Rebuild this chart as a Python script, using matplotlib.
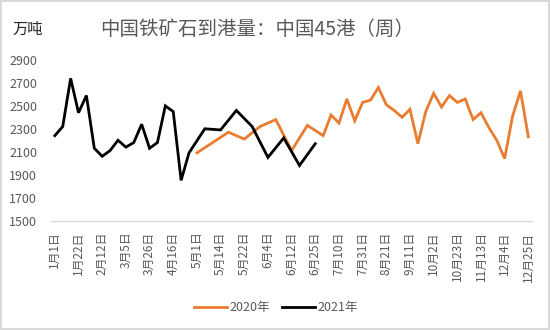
import numpy as np
import matplotlib
matplotlib.use("Agg")
import matplotlib.pyplot as plt

plt.rcParams['font.family'] = ['Noto Sans CJK SC', 'DejaVu Sans']

# Category axis: merged weekly dates of 2021 (Jan–Jun) and 2020 (May–Dec)
categories = [
    "1月1日", "1月8日", "1月15日", "1月22日", "1月29日", "2月5日", "2月12日",
    "2月19日", "2月26日", "3月5日", "3月12日", "3月19日", "3月26日", "4月2日",
    "4月9日", "4月16日", "4月23日", "4月30日", "5月1日", "5月7日", "5月8日",
    "5月14日", "5月15日", "5月21日", "5月22日", "5月28日", "5月29日", "6月4日",
    "6月5日", "6月11日", "6月12日", "6月18日", "6月19日", "6月25日", "6月26日",
    "7月3日", "7月10日", "7月17日", "7月24日", "7月31日", "8月7日", "8月14日",
    "8月21日", "8月28日", "9月4日", "9月11日", "9月18日", "9月25日", "10月2日",
    "10月9日", "10月16日", "10月23日", "10月30日", "11月6日", "11月13日",
    "11月20日", "11月27日", "12月4日", "12月11日", "12月18日", "12月25日",
]

dates_2021 = [
    "1月1日", "1月8日", "1月15日", "1月22日", "1月29日", "2月5日", "2月12日",
    "2月19日", "2月26日", "3月5日", "3月12日", "3月19日", "3月26日", "4月2日",
    "4月9日", "4月16日", "4月23日", "4月30日", "5月7日", "5月14日", "5月21日",
    "5月28日", "6月4日", "6月11日", "6月18日", "6月25日",
]
values_2021 = [
    2240, 2320, 2740, 2440, 2590, 2130, 2060, 2110, 2200, 2140, 2180, 2340,
    2130, 2180, 2500, 2450, 1850, 2090, 2300, 2290, 2460, 2320, 2050, 2220,
    1980, 2170,
]

dates_2020 = [
    "5月1日", "5月8日", "5月15日", "5月22日", "5月29日", "6月5日", "6月12日",
    "6月19日", "6月26日", "7月3日", "7月10日", "7月17日", "7月24日", "7月31日",
    "8月7日", "8月14日", "8月21日", "8月28日", "9月4日", "9月11日", "9月18日",
    "9月25日", "10月2日", "10月9日", "10月16日", "10月23日", "10月30日",
    "11月6日", "11月13日", "11月20日", "11月27日", "12月4日", "12月11日",
    "12月18日", "12月25日",
]
values_2020 = [
    2090, 2180, 2270, 2210, 2320, 2380, 2110, 2330, 2240, 2420, 2350, 2560,
    2370, 2530, 2550, 2660, 2510, 2460, 2400, 2470, 2170, 2450, 2610, 2490,
    2590, 2530, 2560, 2380, 2440, 2310, 2200, 2040, 2410, 2630, 2230,
]

y_ticks = [1500, 1700, 1900, 2100, 2300, 2500, 2700, 2900]

pos = {c: i for i, c in enumerate(categories)}
x2020 = [pos[d] for d in dates_2020]
x2021 = [pos[d] for d in dates_2021]

fig = plt.figure(figsize=(5.5, 3.3), dpi=100)
fig.patch.set_facecolor("white")
fig.patch.set_edgecolor("#D9D9D9")
fig.patch.set_linewidth(1.5)

ax = fig.add_axes([50.9 / 550, 1 - 220.5 / 330, (532.3 - 50.9) / 550, (220.5 - 60) / 330])

l20, = ax.plot(x2020, values_2020, color="#E97C30", lw=2.0, solid_joinstyle="miter",
               label="2020年")
l21, = ax.plot(x2021, values_2021, color="#000000", lw=2.0, solid_joinstyle="miter",
               label="2021年")

ax.set_xlim(-0.5, len(categories) - 0.5)
ax.set_ylim(1500, 2900)
ax.set_yticks(y_ticks)
ax.set_yticklabels([str(v) for v in y_ticks], fontsize=9, color="#595959")

tick_idx = list(range(0, len(categories), 3))
ax.set_xticks(tick_idx)
ax.set_xticklabels([categories[i] for i in tick_idx], rotation=90, fontsize=8.5,
                   color="#595959", va="top", ha="center")

ax.tick_params(axis="y", length=0, pad=10)
ax.tick_params(axis="x", length=0, pad=8)
for s in ["top", "right", "left"]:
    ax.spines[s].set_visible(False)
ax.spines["bottom"].set_color("#D9D9D9")
ax.spines["bottom"].set_linewidth(1.0)

fig.text(257 / 550, 1 - 29 / 330, "中国铁矿石到港量：中国45港（周）", fontsize=14,
         color="#595959", ha="center", va="center")
fig.text(12.5 / 550, 1 - 29 / 330, "万吨", fontsize=11, color="#262626",
         ha="left", va="center")

fig.legend(handles=[l20, l21], loc="center", bbox_to_anchor=(276 / 550, 1 - 307.5 / 330),
           ncol=2, frameon=False, fontsize=9, handlelength=2.6, handletextpad=0.2,
           columnspacing=1.0, labelcolor="#595959")

fig.savefig("out.png", dpi=100, facecolor=fig.get_facecolor(), edgecolor=fig.get_edgecolor())
